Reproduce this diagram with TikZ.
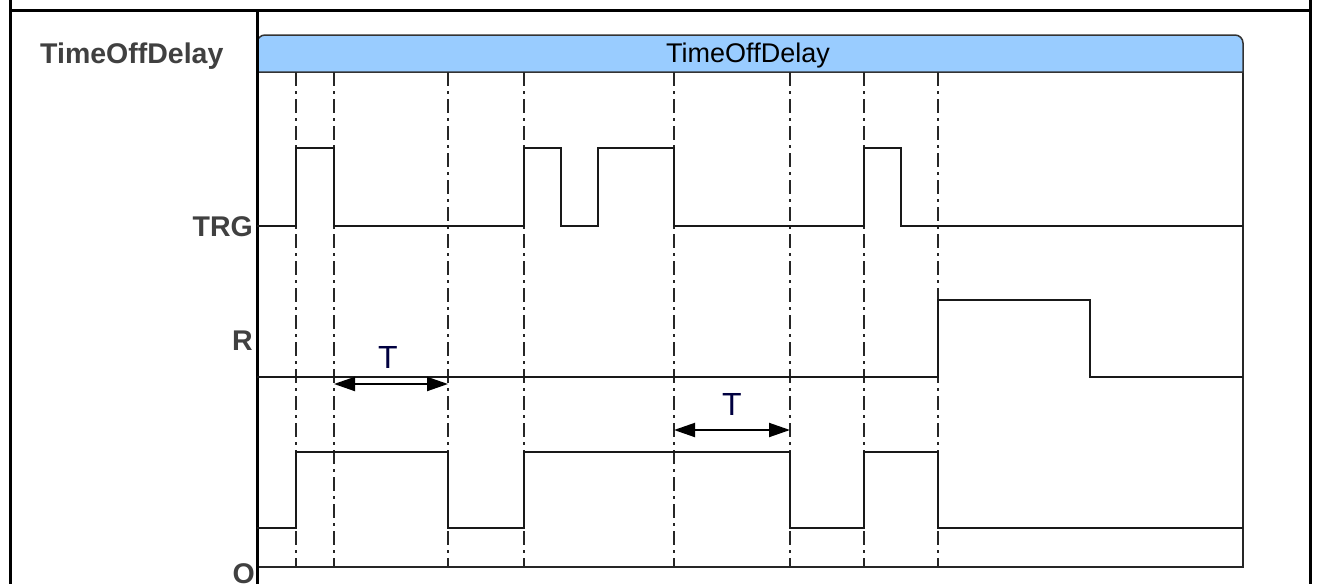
\documentclass[tikz,border=0pt]{standalone}
\usepackage{fontspec}
\setmainfont{Liberation Sans}
\usetikzlibrary{arrows.meta}
\definecolor{hdrblue}{HTML}{99CCFF}
\definecolor{lblgray}{HTML}{404040}

\begin{document}
\begin{tikzpicture}[x=1pt,y=-1pt,
    frame/.style={line width=3pt,black},
    signal/.style={line width=2pt,black!90},
    guide/.style={line width=1.5pt,black!85,dash pattern=on 14pt off 5pt on 3pt off 5pt},
    sig/.style={font=\fontsize{28.5}{34}\selectfont\bfseries,text=lblgray,inner sep=0pt},
    hdr/.style={font=\fontsize{27}{32}\selectfont,inner sep=0pt},
    tlbl/.style={font=\fontsize{32}{38}\selectfont,text=black!75!blue,inner sep=0pt},
    dim/.style={line width=2pt,{Triangle[length=21pt,width=14pt]}-{Triangle[length=21pt,width=14pt]}}]
    \useasboundingbox (0,0) rectangle (1320,584);
    % table frame
    \draw[frame] (10,0) -- (10,584);
    \draw[frame] (1310,0) -- (1310,584);
    \draw[frame] (10,10) -- (1310,10);
    % chart box and header
    \draw[line width=2pt,black!85] (257,72) rectangle (1243,567);
    \draw[line width=1.5pt,draw=black!80,fill=hdrblue] (257,72) [rounded corners=8pt] -- (257,35)
      -- (1243,35) [sharp corners] -- (1243,72) -- cycle;
    \draw[frame] (257,10) -- (257,584);
    \node[hdr,anchor=base] (title) at (748,62) {TimeOffDelay};
    % labels
    \node[sig,anchor=base west] (name) at (40,63) {TimeOffDelay};
    \node[sig,anchor=base east] (trg) at (253,236) {TRG};
    \node[sig,anchor=base east] (r) at (253,350) {R};
    \node[sig,anchor=base east] (o) at (255,583) {O};
    % time marks
    \foreach \x in {296,334,448,524,674,790,864,938}
      \draw[guide] (\x,72) -- (\x,567);
    % TRG
    \draw[signal] (257,226) -- (296,226) -- (296,148) -- (334,148) -- (334,226)
      -- (524,226) -- (524,148) -- (561,148) -- (561,226) -- (598,226) -- (598,148)
      -- (674,148) -- (674,226) -- (864,226) -- (864,148) -- (901,148) -- (901,226)
      -- (1243,226);
    % R
    \draw[signal] (257,377) -- (938,377) -- (938,300) -- (1090,300) -- (1090,377)
      -- (1243,377);
    % O
    \draw[signal] (257,528) -- (296,528) -- (296,452) -- (448,452) -- (448,528)
      -- (524,528) -- (524,452) -- (790,452) -- (790,528) -- (864,528) -- (864,452)
      -- (938,452) -- (938,528) -- (1243,528);
    % delay T
    \coordinate (t1a) at (334,384);
    \coordinate (t1b) at (448,384);
    \coordinate (t2a) at (674,430);
    \coordinate (t2b) at (790,430);
    \draw[dim] (t1a) -- (t1b);
    \draw[dim] (t2a) -- (t2b);
    \node[tlbl,anchor=base] (t1) at (388,368) {T};
    \node[tlbl,anchor=base] (t2) at (732,415) {T};
\end{tikzpicture}
\end{document}
